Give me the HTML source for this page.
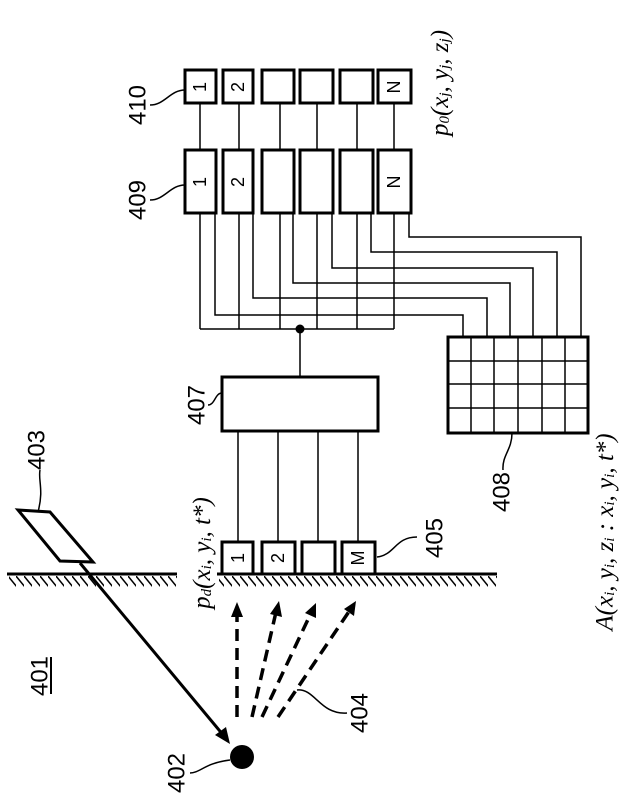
<!DOCTYPE html>
<html><head><meta charset="utf-8"><style>
html,body{margin:0;padding:0;background:#fff;}
svg{display:block;}
.n{font-family:"Liberation Sans",sans-serif;font-size:24px;fill:#000;}
.b{font-family:"Liberation Sans",sans-serif;font-size:18px;fill:#000;}
.m{font-family:"Liberation Serif",serif;font-style:italic;font-size:25px;fill:#000;}
</style></head><body>
<svg width="626" height="795" viewBox="0 0 626 795" xmlns="http://www.w3.org/2000/svg">
<defs>
<pattern id="h" width="8" height="16" patternUnits="userSpaceOnUse">
<line x1="0" y1="0" x2="13" y2="16" stroke="#000" stroke-width="1.5"/>
</pattern>
</defs>
<g fill="none" stroke="#000">
<g stroke-width="3">
<rect x="185" y="70" width="31" height="33"/><rect x="223" y="70" width="30" height="33"/><rect x="262" y="70" width="32" height="33"/><rect x="300" y="70" width="33" height="33"/><rect x="340" y="70" width="33" height="33"/><rect x="378" y="70" width="33" height="33"/>
<rect x="185" y="150" width="31" height="63"/><rect x="223" y="150" width="30" height="63"/><rect x="262" y="150" width="32" height="63"/><rect x="300" y="150" width="33" height="63"/><rect x="340" y="150" width="33" height="63"/><rect x="378" y="150" width="33" height="63"/>
<rect x="222" y="377" width="156" height="54"/>
<rect x="448" y="337" width="140" height="96"/>
<rect x="222" y="542" width="31" height="32"/><rect x="262" y="542" width="33" height="32"/><rect x="302" y="542" width="33" height="32"/><rect x="342" y="542" width="33" height="32"/>
</g>
<g stroke-width="1.5">
<path d="M200 103V150M239 103V150M280 103V150M317 103V150M357 103V150M394 103V150"/>
<path d="M200 213V329M239 213V329M280 213V329M317 213V329M357 213V329M394 213V329M200 329H394M300 329V377"/>
<path d="M215 213V315H463V337M253 213V298H487V337M293 213V283H510V337M332 213V268H533V337M371 213V252H557V337M409 213V237H581V337"/>
<path d="M238 431V542M278 431V542M318 431V542M358 431V542"/>
<path d="M448 361H588M448 384H588M448 408H588M471 337V433M494 337V433M518 337V433M542 337V433M565 337V433"/>
<path d="M150 105C165 105 170 90 185 90"/>
<path d="M150 200C165 200 170 185 185 185"/>
<path d="M208 405C215 405 215 393 222 393"/>
<path d="M40 470C38 480 44 490 38 512"/>
<path d="M377 557C395 555 395 537 417 537"/>
<path d="M297 690C315 688 320 715 347 713"/>
<path d="M512 433C512 450 502 455 503 470"/>
<path d="M190 773C200 773 205 763 230 760"/>
</g>
<path d="M7 574H177M217 574H497" stroke-width="3"/>
</g>
<rect x="9" y="576" width="168" height="15" fill="url(#h)"/>
<rect x="219" y="576" width="278" height="15" fill="url(#h)"/>
<polygon points="18,510 50,512 93,562 60,561" fill="#fff" stroke="#000" stroke-width="3"/>
<line x1="80" y1="563" x2="224" y2="736" stroke="#000" stroke-width="3"/>
<polygon points="230,744 215,735 226,727" fill="#000"/>
<circle cx="242" cy="757" r="12" fill="#000"/>
<g stroke="#000" stroke-width="3.5" stroke-dasharray="12,7" fill="none">
<line x1="237" y1="717" x2="237" y2="614"/>
<line x1="252" y1="717" x2="276" y2="612"/>
<line x1="262" y1="717" x2="311" y2="613"/>
<line x1="278" y1="717" x2="350" y2="610"/>
</g>
<g fill="#000">
<polygon points="237,602 231,617 243,617"/>
<polygon points="279,601 270,614 282,617"/>
<polygon points="316,603 305,613 316,618"/>
<polygon points="356,601 344,609 354,616"/>
<circle cx="300" cy="329" r="4.5"/>
</g>
<g class="b" text-anchor="middle" dominant-baseline="central">
<text transform="translate(200,87) rotate(-90)">1</text>
<text transform="translate(238,87) rotate(-90)">2</text>
<text transform="translate(394,87) rotate(-90)">N</text>
<text transform="translate(200,182) rotate(-90)">1</text>
<text transform="translate(238,182) rotate(-90)">2</text>
<text transform="translate(394,182) rotate(-90)">N</text>
<text transform="translate(238,558) rotate(-90)">1</text>
<text transform="translate(278,558) rotate(-90)">2</text>
<text transform="translate(358,558) rotate(-90)">M</text>
</g>
<g class="n" text-anchor="middle" dominant-baseline="central">
<text transform="translate(138,105) rotate(-90)">410</text>
<text transform="translate(138,200) rotate(-90)">409</text>
<text transform="translate(197,405) rotate(-90)">407</text>
<text transform="translate(37,450) rotate(-90)">403</text>
<text transform="translate(40,676) rotate(-90)">401</text>
<text transform="translate(177,773) rotate(-90)">402</text>
<text transform="translate(360,713) rotate(-90)">404</text>
<text transform="translate(435,538) rotate(-90)">405</text>
<text transform="translate(502,492) rotate(-90)">408</text>
</g>
<line x1="51" y1="657" x2="51" y2="694" stroke="#000" stroke-width="2"/>
<g class="m" text-anchor="middle" dominant-baseline="central">
<text transform="translate(202,553) rotate(-90)">p<tspan font-size="15" dy="5">d</tspan><tspan dy="-5">(x</tspan><tspan font-size="15" dy="5">i</tspan><tspan dy="-5">, y</tspan><tspan font-size="15" dy="5">i</tspan><tspan dy="-5">, t*)</tspan></text>
<text transform="translate(440,83) rotate(-90)">p<tspan font-size="15" dy="5">0</tspan><tspan dy="-5">(x</tspan><tspan font-size="15" dy="5">j</tspan><tspan dy="-5">, y</tspan><tspan font-size="15" dy="5">j</tspan><tspan dy="-5">, z</tspan><tspan font-size="15" dy="5">j</tspan><tspan dy="-5">)</tspan></text>
<text transform="translate(605,532) rotate(-90)">A(x<tspan font-size="15" dy="5">i</tspan><tspan dy="-5">, y</tspan><tspan font-size="15" dy="5">i</tspan><tspan dy="-5">, z</tspan><tspan font-size="15" dy="5">i</tspan><tspan dy="-5"> : x</tspan><tspan font-size="15" dy="5">i</tspan><tspan dy="-5">, y</tspan><tspan font-size="15" dy="5">i</tspan><tspan dy="-5">, t*)</tspan></text>
</g>
</svg>
</body></html>
